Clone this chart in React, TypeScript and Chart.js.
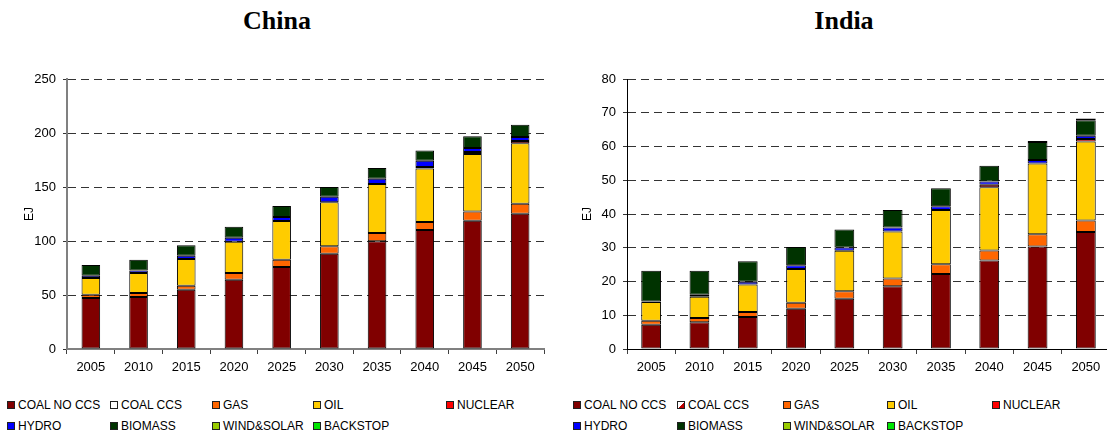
import { useEffect, useRef } from "react";
import { Chart, registerables } from "chart.js";

Chart.register(...registerables);

// Years on the category axis
const YEARS = ["2005", "2010", "2015", "2020", "2025", "2030", "2035", "2040", "2045", "2050"];

// Energy carriers, bottom of the stack first
const SERIES = ["COAL NO CCS", "COAL CCS", "GAS", "OIL", "NUCLEAR", "HYDRO", "BIOMASS", "WIND&SOLAR", "BACKSTOP"];
const SERIES_COLORS = ["#800000", "#FFFFFF", "#FF6600", "#FFCC00", "#FF0000", "#0000FF", "#003300", "#99CC00", "#00E600"];

// China, primary energy (EJ)
const chinaCoalNoCcs = [47.2, 48.1, 54.9, 64.2, 75.9, 88.3, 99.7, 110.2, 118.8, 125.3];
const chinaCoalCcs = [0, 0, 0, 0, 0, 0, 0, 0, 0, 0];
const chinaGas = [3.1, 3.8, 3.7, 6.2, 6.8, 6.8, 7.7, 7.4, 8.4, 9.3];
const chinaOil = [15.4, 18.5, 24.7, 29.0, 35.8, 40.7, 45.4, 49.6, 53.4, 55.8];
const chinaNuclear = [0, 0, 0, 0, 0, 0, 0, 1.3, 1.7, 2.2];
const chinaHydro = [2.2, 2.4, 3.1, 3.6, 3.7, 5.2, 4.9, 5.8, 3.8, 3.7];
const chinaBiomass = [9.9, 9.9, 9.6, 10.3, 10.2, 9.0, 9.9, 9.6, 10.8, 11.4];
const chinaWindSolar = [0, 0, 0, 0, 0, 0, 0, 0, 0, 0];
const chinaBackstop = [0, 0, 0, 0, 0, 0, 0, 0, 0, 0];

// India, primary energy (EJ)
const indiaCoalNoCcs = [7.2, 7.9, 9.5, 11.9, 14.9, 18.6, 22.2, 26.2, 30.4, 34.7];
const indiaCoalCcs = [0, 0, 0, 0, 0, 0, 0, 0, 0, 0];
const indiaGas = [1.2, 1.3, 1.5, 1.8, 2.2, 2.3, 2.9, 3.0, 3.6, 3.4];
const indiaOil = [5.5, 6.3, 8.1, 10.0, 12.0, 13.9, 16.1, 18.7, 21.0, 23.4];
const indiaNuclear = [0, 0, 0, 0, 0, 0, 0, 0.8, 0, 0.7];
const indiaHydro = [0.2, 0.6, 0.8, 1.1, 1.0, 1.2, 1.1, 0.9, 1.0, 1.0];
const indiaBiomass = [9.1, 7.1, 6.1, 5.4, 5.3, 5.2, 5.3, 4.7, 5.3, 4.6];
const indiaWindSolar = [0, 0, 0, 0, 0, 0, 0, 0, 0.3, 0.5];
const indiaBackstop = [0, 0, 0, 0, 0, 0, 0, 0, 0, 0];

// Axis ticks
const CHINA_Y_MAX = 250;
const CHINA_Y_STEP = 50;
const INDIA_Y_MAX = 80;
const INDIA_Y_STEP = 10;

const CHINA_VALUES = [
  chinaCoalNoCcs, chinaCoalCcs, chinaGas, chinaOil, chinaNuclear,
  chinaHydro, chinaBiomass, chinaWindSolar, chinaBackstop,
];
const INDIA_VALUES = [
  indiaCoalNoCcs, indiaCoalCcs, indiaGas, indiaOil, indiaNuclear,
  indiaHydro, indiaBiomass, indiaWindSolar, indiaBackstop,
];

const SANS = '"Liberation Sans", Arial, sans-serif';
const SERIF = '"Liberation Serif", "Times New Roman", serif';

type PanelProps = {
  values: number[][];
  left: number;
  width: number;
  height: number;
  yMax: number;
  yStep: number;
  yAxisWidth: number;
  rightPad: number;
  titlePad: number;
  barPct: number;
  axisColor: string;
  axisWidth: number;
};

function StackedPanel(p: PanelProps) {
  const ref = useRef<HTMLCanvasElement | null>(null);

  useEffect(() => {
    if (!ref.current) return;
    const plotTop = 79;
    const plotBottom = 349;
    const chart = new Chart(ref.current, {
      type: "bar",
      data: {
        labels: YEARS,
        datasets: SERIES.map((name, i) => ({
          label: name,
          data: p.values[i].map((v) => (v > 0 ? v : null)),
          backgroundColor: SERIES_COLORS[i],
          borderColor: "#000000",
          borderWidth: 1,
          borderSkipped: false,
          inflateAmount: 0,
          barPercentage: p.barPct,
          categoryPercentage: 1,
        })),
      },
      options: {
        responsive: false,
        animation: false,
        devicePixelRatio: 1,
        layout: { padding: { top: plotTop, left: 0, right: p.rightPad, bottom: 0 } },
        plugins: {
          legend: { display: false },
          tooltip: { enabled: false },
          title: { display: false },
        },
        scales: {
          x: {
            stacked: true,
            afterFit: (s: any) => {
              s.height = p.height - plotBottom;
            },
            grid: {
              display: true,
              drawOnChartArea: false,
              drawTicks: true,
              tickLength: 5,
              offset: true,
              color: "#404040",
            },
            border: { display: true, color: p.axisColor, width: p.axisWidth },
            ticks: {
              color: "#000000",
              font: { family: SANS, size: 13 },
              padding: 6,
              maxRotation: 0,
              autoSkip: false,
            },
          },
          y: {
            stacked: true,
            min: 0,
            max: p.yMax,
            afterFit: (s: any) => {
              s.width = p.yAxisWidth;
            },
            grid: {
              color: "#333333",
              lineWidth: 1,
              tickLength: 4,
              tickColor: "#333333",
            },
            border: { display: true, color: p.axisColor, width: p.axisWidth, dash: [8, 5] },
            ticks: {
              stepSize: p.yStep,
              color: "#000000",
              font: { family: SANS, size: 13 },
              padding: 7,
            },
            title: {
              display: true,
              text: "EJ",
              color: "#000000",
              font: { family: SANS, size: 12 },
              padding: { top: p.titlePad, bottom: 0 },
            },
          },
        },
      },
    } as any);
    return () => chart.destroy();
  }, [p]);

  return (
    <canvas
      ref={ref}
      width={p.width}
      height={p.height}
      style={{ position: "absolute", left: p.left, top: 0, width: p.width, height: p.height }}
    />
  );
}

type LegendProps = { columns: number[]; ccsMarker: string };

function Legend({ columns, ccsMarker }: LegendProps) {
  const rows = [SERIES.slice(0, 5), SERIES.slice(5)];
  const rowCenters = [404.5, 425.5];
  return (
    <>
      {rows.map((row, r) =>
        row.map((name, c) => {
          const idx = r * 5 + c;
          const fill = idx === 1 ? ccsMarker : SERIES_COLORS[idx];
          return (
            <div
              key={name}
              style={{
                position: "absolute",
                left: columns[c],
                top: rowCenters[r] - 8,
                height: 16,
                display: "flex",
                alignItems: "center",
                whiteSpace: "nowrap",
                font: `12px ${SANS}`,
                color: "#000",
              }}
            >
              <span
                style={{
                  display: "inline-block",
                  width: 6,
                  height: 6,
                  border: "1px solid #202020",
                  background: fill,
                  marginRight: 3,
                }}
              />
              <span>{name}</span>
            </div>
          );
        })
      )}
    </>
  );
}

const chinaPanel: PanelProps = {
  values: CHINA_VALUES,
  left: 0,
  width: 554,
  height: 380,
  yMax: CHINA_Y_MAX,
  yStep: CHINA_Y_STEP,
  yAxisWidth: 67,
  rightPad: 10,
  titlePad: 22,
  barPct: 0.39,
  axisColor: "#808080",
  axisWidth: 2,
};

const indiaPanel: PanelProps = {
  values: INDIA_VALUES,
  left: 554,
  width: 560,
  height: 380,
  yMax: INDIA_Y_MAX,
  yStep: INDIA_Y_STEP,
  yAxisWidth: 73,
  rightPad: 4,
  titlePad: 26,
  barPct: 0.41,
  axisColor: "#000000",
  axisWidth: 1,
};

function Title({ text, center }: { text: string; center: number }) {
  return (
    <div
      style={{
        position: "absolute",
        left: center - 100,
        width: 200,
        top: 6,
        lineHeight: "30px",
        textAlign: "center",
        font: `bold 26px ${SERIF}`,
        color: "#000",
      }}
    >
      {text}
    </div>
  );
}

export default function App() {
  return (
    <div
      style={{
        position: "fixed",
        left: 0,
        top: 0,
        width: 1107,
        height: 434,
        overflow: "hidden",
        background: "#ffffff",
      }}
    >
      <Title text="China" center={277} />
      <Title text="India" center={844} />
      <StackedPanel {...chinaPanel} />
      <StackedPanel {...indiaPanel} />
      <Legend columns={[7, 110, 212, 313, 446]} ccsMarker="#ffffff" />
      <Legend
        columns={[573, 677, 783, 887, 992]}
        ccsMarker="linear-gradient(135deg, #ffffff 50%, #c00000 50%)"
      />
    </div>
  );
}
